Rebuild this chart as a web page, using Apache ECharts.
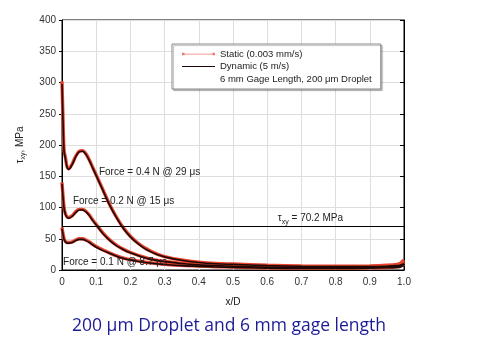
<!DOCTYPE html>
<html>
<head>
<meta charset="utf-8">
<script src="https://cdn.jsdelivr.net/npm/echarts@6/dist/echarts.min.js"></script>
<style>
  html, body { margin: 0; padding: 0; background: #fff; }
  #chart { width: 500px; height: 350px; }
</style>
</head>
<body>
<div id="chart"></div>
<script>
// Position along the gage, x/D
const xD = [0, 0.003, 0.006, 0.01, 0.015, 0.02, 0.03, 0.04, 0.05, 0.06, 0.07, 0.08, 0.09, 0.1,
            0.12, 0.14, 0.16, 0.18, 0.2, 0.22, 0.24, 0.26, 0.28, 0.3, 0.35, 0.4, 0.45, 0.5,
            0.6, 0.7, 0.8, 0.9, 0.95, 0.98, 0.99, 1.0];

// Shear stress tau_xy (MPa), static loading
const static04 = [302, 240, 192, 180, 165, 162, 170, 182, 190, 191, 186, 176, 164, 152,
                  128, 104, 84, 67, 54, 44, 36, 30, 25, 21.5, 16, 12.5, 10.5, 9.5,
                  7.5, 6.5, 6, 6.5, 7.5, 9, 11, 16];
const static02 = [140, 118, 100, 90, 85, 84, 87, 93, 97, 97, 94, 88, 80, 73,
                  59, 48, 39.5, 33, 28, 24, 20.5, 17.5, 15.5, 14, 10.8, 8.7, 7.4, 6.5,
                  5, 4.5, 4.5, 5, 6, 7.5, 9, 13];
const static01 = [68, 58, 50, 46, 44, 44, 45, 48, 50, 50, 48, 45, 41, 37.5,
                  32, 27, 22.5, 19, 16.5, 14.5, 12.8, 11.4, 10.2, 9.2, 7.4, 6.2, 5.3, 4.6,
                  3.5, 3, 3, 3.5, 4, 5, 6, 9];

// Shear stress tau_xy (MPa), dynamic loading
const dyn04 = [298, 236, 190, 178, 164, 161, 169, 181, 189, 190, 185, 175, 163, 151,
               127, 103, 83, 66, 53, 43, 35, 29, 24.5, 21, 15.5, 12, 10, 9,
               7, 6, 5.5, 5.5, 6, 7, 8, 10];
const dyn02 = [138, 116, 99, 89, 84, 83, 86, 92, 96, 96, 93, 87, 79, 72,
               58, 47, 38.5, 32.5, 27.5, 23.5, 20, 17, 15, 13.5, 10.3, 8.2, 7, 6,
               4.5, 4, 4, 4.5, 5, 6, 7, 9];
const dyn01 = [66, 57, 49, 45, 43, 43, 44, 47, 49, 49, 47, 44, 40, 36.5,
               31, 26.5, 22, 18.5, 16, 14, 12.4, 11, 9.8, 8.8, 7, 5.8, 4.9, 4.2,
               3, 2.5, 2.5, 3, 3.5, 4, 5, 7];

const criticalStress = 70.2;
const yTicks = [0, 50, 100, 150, 200, 250, 300, 350, 400];

const forceLabels = [
  { text: 'Force = 0.4 N @ 29 μs', at: [0.108, 157] },
  { text: 'Force = 0.2 N @ 15 μs', at: [0.032, 110] },
  { text: 'Force = 0.1 N @ 8.7 μs', at: [0.003, 13] }
];

const STATIC_NAME = 'Static (0.003 mm/s)';
const DYN_NAME = 'Dynamic (5 m/s)';
const NOTE_NAME = '6 mm Gage Length, 200 μm Droplet';
const FONT = '"Liberation Sans", Arial, sans-serif';

const pairs = ys => xD.map((x, i) => [x, ys[i]]);

function staticSeries(ys) {
  return {
    name: STATIC_NAME, type: 'line', data: pairs(ys), showSymbol: false,
    symbol: 'none', smooth: 0.3, z: 2,
    itemStyle: { color: '#e8442e' },
    lineStyle: { color: '#e8442e', width: 3.4 }
  };
}
function dynSeries(ys, extra) {
  return Object.assign({
    name: DYN_NAME, type: 'line', data: pairs(ys), showSymbol: false,
    symbol: 'none', smooth: 0.3, z: 3,
    itemStyle: { color: '#1e0806' },
    lineStyle: { color: '#1e0806', width: 1.6 }
  }, extra || {});
}

const subRich = {
  t: { fontSize: 10, fontFamily: FONT, color: '#222' },
  s: { fontSize: 7, fontFamily: FONT, color: '#222', padding: [6, 0, 0, 0] }
};

const chart = echarts.init(document.getElementById('chart'), null, { renderer: 'canvas' });

chart.setOption({
  animation: false,
  backgroundColor: '#fff',
  title: {
    text: '200 μm Droplet and 6 mm gage length',
    left: 67, top: 312,
    textStyle: { color: '#1c1c96', fontSize: 17.5, fontWeight: 'normal', fontFamily: '"Open Sans", sans-serif' }
  },
  grid: { left: 62, right: 96, top: 20, bottom: 80, show: true, borderColor: '#000', borderWidth: 1 },
  legend: {
    orient: 'vertical', left: 172, top: 44,
    padding: [5, 9, 5, 9], itemGap: 2.5, itemWidth: 33, itemHeight: 8,
    backgroundColor: '#fff', borderColor: '#8a8a8a', borderWidth: 1,
    shadowColor: 'rgba(0,0,0,0.25)', shadowOffsetX: 1.5, shadowOffsetY: 1.5, shadowBlur: 1,
    textStyle: { fontSize: 9.5, fontFamily: FONT, color: '#222' },
    data: [
      { name: STATIC_NAME, icon: 'path://M0,3 h2.5 v2.5 h-2.5 z M2,3.9 h29 v0.8 h-29 z M30.5,3 h2.5 v2.5 h-2.5 z',
        itemStyle: { color: '#f07a70' } },
      { name: DYN_NAME, icon: 'path://M0,3.8 L33,3.8 L33,5 L0,5 Z' },
      { name: NOTE_NAME, itemStyle: { opacity: 0 }, lineStyle: { opacity: 0 } }
    ]
  },
  xAxis: {
    type: 'value', min: 0, max: 1, interval: 0.1,
    name: 'x/D', nameLocation: 'middle', nameGap: 27,
    nameTextStyle: { fontSize: 10, fontFamily: FONT, color: '#111' },
    axisLine: { show: true, lineStyle: { color: '#000', width: 1 } },
    axisTick: { show: false },
    axisLabel: {
      fontSize: 10, fontFamily: FONT, color: '#333', margin: 7,
      formatter: v => (v === 0 ? '0' : v.toFixed(1))
    },
    splitLine: { show: true, lineStyle: { color: '#dedede', width: 1 } }
  },
  yAxis: [{
    type: 'value', min: 0, max: 400, interval: 50,
    name: '{t|τ}{s|xy}{t|, MPa}', nameLocation: 'middle', nameGap: 35, nameRotate: 90,
    nameTextStyle: { rich: subRich },
    axisLine: { show: true, lineStyle: { color: '#000', width: 1 } },
    axisTick: { show: true, length: 3, lineStyle: { color: '#000' } },
    axisLabel: {
      fontSize: 10, fontFamily: FONT, color: '#333', margin: 6,
      formatter: v => (yTicks.indexOf(v) >= 0 ? String(v) : '')
    },
    splitLine: { show: true, lineStyle: { color: '#dedede', width: 1 } }
  }, {
    type: 'value', min: 0, max: 400, interval: 50, position: 'right',
    axisLine: { show: true, lineStyle: { color: '#000', width: 1 } },
    axisTick: { show: true, inside: true, length: 4, lineStyle: { color: '#000' } },
    axisLabel: { show: false },
    splitLine: { show: false }
  }],
  series: [
    staticSeries(static04),
    staticSeries(static02),
    staticSeries(static01),
    dynSeries(dyn04, {
      markLine: {
        silent: true, symbol: 'none',
        lineStyle: { color: '#000', width: 1.2, type: 'solid' },
        label: {
          position: 'insideEndTop', distance: 1, padding: [0, 60, 0, 0],
          formatter: '{t|τ}{s|xy}{t| = 70.2 MPa}', rich: subRich
        },
        data: [{ yAxis: criticalStress }]
      },
      markPoint: {
        silent: true, symbol: 'circle', symbolSize: 0,
        label: { show: true, position: 'right', distance: 0, fontSize: 10, fontFamily: FONT, color: '#222',
                 formatter: p => p.name },
        data: forceLabels.map(f => ({ name: f.text, coord: f.at }))
      }
    }),
    dynSeries(dyn02),
    dynSeries(dyn01),
    { name: NOTE_NAME, type: 'line', data: [], symbol: 'none', lineStyle: { opacity: 0 }, itemStyle: { opacity: 0 } }
  ]
});
</script>
</body>
</html>
